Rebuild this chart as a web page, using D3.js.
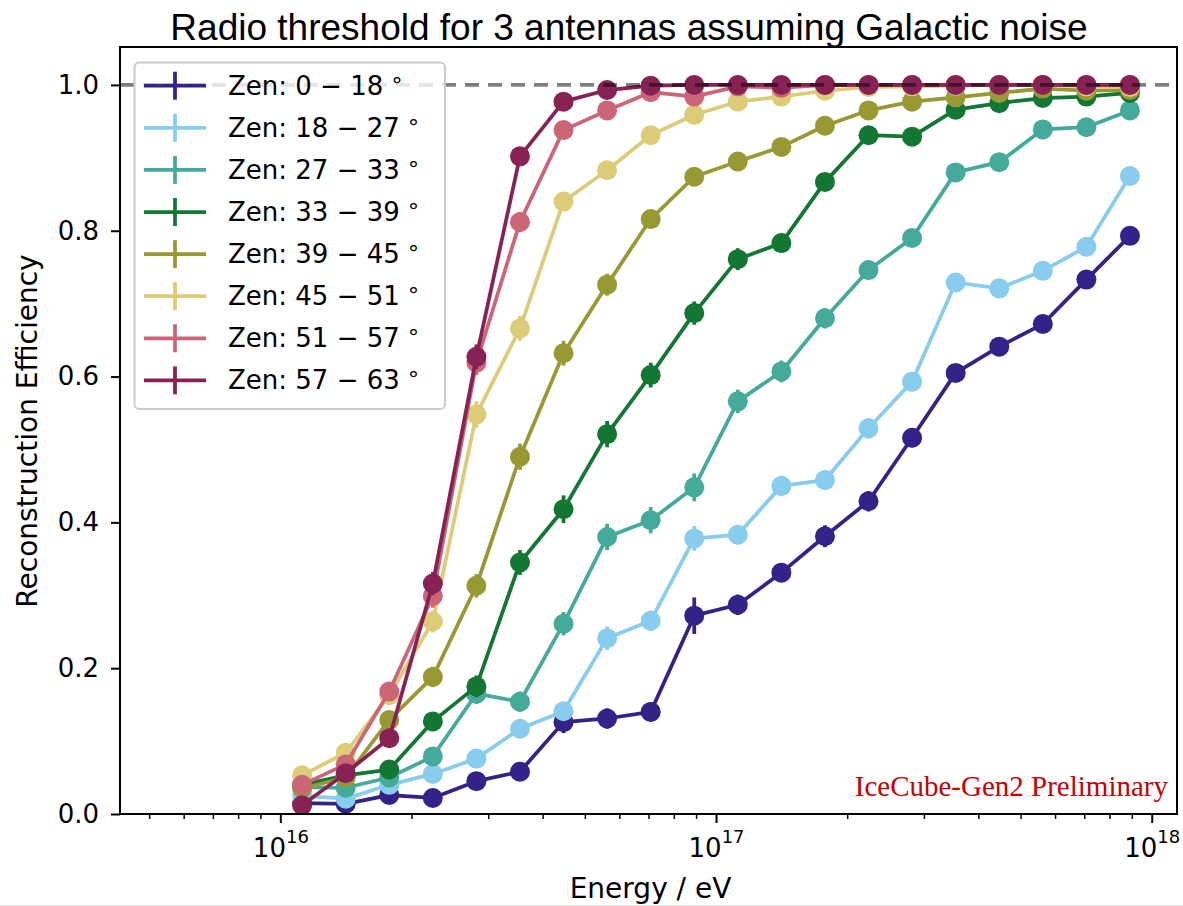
<!DOCTYPE html>
<html>
<head>
<meta charset="utf-8">
<script src="https://cdn.jsdelivr.net/npm/d3@7"></script>
<style>
  body { margin: 0; background: #ffffff; }
  svg { display: block; }
</style>
</head>
<body>
<svg id="chart" width="1183" height="906"></svg>
<script>
// Energy bin centres (log10 of energy in eV)
const logEnergy = [16.05, 16.15, 16.25, 16.35, 16.45, 16.55, 16.65, 16.75, 16.85, 16.95,
                   17.05, 17.15, 17.25, 17.35, 17.45, 17.55, 17.65, 17.75, 17.85, 17.95];

// Zenith bands (degrees)
const zenLow  = [0, 18, 27, 33, 39, 45, 51, 57];
const zenHigh = [18, 27, 33, 39, 45, 51, 57, 63];

const seriesColors = ["#332288", "#88CCEE", "#44AA99", "#117733",
                      "#999933", "#DDCC77", "#CC6677", "#882255"];

// Reconstruction efficiency per zenith band
const effZen0  = [0.015, 0.014, 0.026, 0.022, 0.045, 0.058, 0.126, 0.131, 0.140, 0.272,
                  0.287, 0.331, 0.381, 0.429, 0.516, 0.605, 0.641, 0.672, 0.733, 0.793];
const effZen18 = [0.025, 0.021, 0.040, 0.055, 0.076, 0.117, 0.141, 0.241, 0.265, 0.378,
                  0.383, 0.450, 0.458, 0.529, 0.593, 0.729, 0.721, 0.745, 0.778, 0.875];
const effZen27 = [0.037, 0.036, 0.050, 0.079, 0.165, 0.154, 0.261, 0.380, 0.403, 0.448,
                  0.566, 0.607, 0.680, 0.746, 0.790, 0.880, 0.894, 0.939, 0.942, 0.965];
const effZen33 = [0.040, 0.053, 0.061, 0.127, 0.175, 0.345, 0.418, 0.521, 0.602, 0.687,
                  0.761, 0.783, 0.867, 0.931, 0.929, 0.966, 0.975, 0.982, 0.984, 0.989];
const effZen39 = [0.035, 0.050, 0.129, 0.188, 0.313, 0.490, 0.632, 0.726, 0.816, 0.874,
                  0.895, 0.915, 0.944, 0.965, 0.977, 0.983, 0.989, 0.995, 0.992, 0.993];
const effZen45 = [0.053, 0.084, 0.163, 0.264, 0.548, 0.666, 0.840, 0.883, 0.931, 0.959,
                  0.977, 0.984, 0.992, 0.997, 0.998, 0.999, 1.000, 1.000, 0.998, 0.997];
const effZen51 = [0.040, 0.068, 0.168, 0.299, 0.619, 0.812, 0.938, 0.965, 0.990, 0.984,
                  0.998, 0.996, 1.000, 1.000, 1.000, 1.000, 1.000, 1.000, 1.000, 1.000];
const effZen57 = [0.012, 0.056, 0.104, 0.316, 0.627, 0.902, 0.977, 0.993, 0.999, 1.000,
                  1.000, 1.000, 1.000, 1.000, 1.000, 1.000, 1.000, 1.000, 1.000, 1.000];

// Statistical uncertainty per point
const errZen0  = [0.005, 0.005, 0.007, 0.006, 0.009, 0.010, 0.015, 0.014, 0.013, 0.025,
                  0.014, 0.013, 0.015, 0.014, 0.013, 0.012, 0.012, 0.011, 0.010, 0.009];
const errZen18 = [0.006, 0.006, 0.008, 0.009, 0.010, 0.012, 0.013, 0.016, 0.014, 0.017,
                  0.013, 0.014, 0.013, 0.014, 0.013, 0.012, 0.012, 0.011, 0.011, 0.009];
const errZen27 = [0.007, 0.007, 0.009, 0.011, 0.014, 0.014, 0.016, 0.018, 0.018, 0.019,
                  0.016, 0.015, 0.014, 0.013, 0.012, 0.010, 0.009, 0.007, 0.007, 0.006];
const errZen33 = [0.007, 0.008, 0.009, 0.012, 0.015, 0.017, 0.019, 0.018, 0.017, 0.016,
                  0.015, 0.013, 0.011, 0.008, 0.008, 0.006, 0.005, 0.004, 0.004, 0.003];
const errZen39 = [0.007, 0.008, 0.012, 0.014, 0.016, 0.018, 0.017, 0.015, 0.013, 0.011,
                  0.010, 0.009, 0.007, 0.006, 0.005, 0.004, 0.003, 0.002, 0.003, 0.002];
const errZen45 = [0.008, 0.010, 0.013, 0.015, 0.018, 0.017, 0.013, 0.011, 0.009, 0.007,
                  0.005, 0.004, 0.003, 0.002, 0.001, 0.001, 0.000, 0.000, 0.001, 0.002];
const errZen51 = [0.007, 0.009, 0.013, 0.016, 0.017, 0.014, 0.009, 0.006, 0.003, 0.004,
                  0.002, 0.002, 0.000, 0.000, 0.000, 0.000, 0.000, 0.000, 0.000, 0.000];
const errZen57 = [0.004, 0.008, 0.011, 0.016, 0.017, 0.011, 0.005, 0.003, 0.001, 0.000,
                  0.000, 0.000, 0.000, 0.000, 0.000, 0.000, 0.000, 0.000, 0.000, 0.000];

const majorTicksX = [1e16, 1e17, 1e18];
const majorTickExp = ["16", "17", "18"];
const yTicks = [0.0, 0.2, 0.4, 0.6, 0.8, 1.0];

const effSeries = [effZen0, effZen18, effZen27, effZen33, effZen39, effZen45, effZen51, effZen57];
const errSeries = [errZen0, errZen18, errZen27, errZen33, errZen39, errZen45, errZen51, errZen57];

const series = zenLow.map((lo, k) => ({
  lo, hi: zenHigh[k], color: seriesColors[k],
  points: logEnergy.map((le, i) => ({ e: Math.pow(10, le), v: effSeries[k][i], err: errSeries[k][i] }))
}));

// ---- layout ----
const plot = { left: 120, right: 1177, top: 47, bottom: 814 };
const svg = d3.select("#chart");

const x = d3.scaleLog()
  .domain([Math.pow(10, 15.632), Math.pow(10, 18.058)])
  .range([plot.left, plot.right]);
const y = d3.scaleLinear()
  .domain([0, 1.052])
  .range([plot.bottom, plot.top]);

const sansFont = "'DejaVu Sans', Verdana, sans-serif";

svg.append("defs").append("clipPath").attr("id", "plotClip")
  .append("rect")
  .attr("x", plot.left).attr("y", plot.top)
  .attr("width", plot.right - plot.left).attr("height", plot.bottom - plot.top);

// Title
svg.append("text")
  .attr("x", 629).attr("y", 40)
  .attr("text-anchor", "middle")
  .style("font-family", "'Liberation Sans', Arial, sans-serif")
  .style("font-size", "37px")
  .attr("fill", "#000")
  .text("Radio threshold for 3 antennas assuming Galactic noise");

// ---- data ----
const dataLayer = svg.append("g").attr("clip-path", "url(#plotClip)");
const line = d3.line().x(d => x(d.e)).y(d => y(d.v));

series.forEach(s => {
  const g = dataLayer.append("g");
  g.append("path")
    .datum(s.points)
    .attr("d", line)
    .attr("fill", "none")
    .attr("stroke", s.color)
    .attr("stroke-width", 3.75)
    .attr("stroke-linejoin", "round");
  g.selectAll("line.err")
    .data(s.points.filter(p => p.err > 0))
    .join("line")
    .attr("class", "err")
    .attr("x1", d => x(d.e)).attr("x2", d => x(d.e))
    .attr("y1", d => y(d.v - d.err)).attr("y2", d => y(d.v + d.err))
    .attr("stroke", s.color)
    .attr("stroke-width", 3.75);
  g.selectAll("circle")
    .data(s.points)
    .join("circle")
    .attr("cx", d => x(d.e))
    .attr("cy", d => y(d.v))
    .attr("r", 10)
    .attr("fill", s.color);
});

// Full-efficiency reference line
svg.append("line")
  .attr("x1", plot.left).attr("x2", plot.right)
  .attr("y1", y(1.0)).attr("y2", y(1.0))
  .attr("stroke", "#000")
  .attr("stroke-opacity", 0.5)
  .attr("stroke-width", 3.75)
  .attr("stroke-dasharray", "14,9");

// ---- axes ----
const minorTicksX = [];
[1e15, 1e16, 1e17].forEach(base => {
  for (let m = 2; m <= 9; m++) {
    const v = base * m;
    if (v > x.domain()[0] && v < x.domain()[1]) minorTicksX.push(v);
  }
});

const xMinor = svg.append("g")
  .attr("transform", `translate(0,${plot.bottom})`)
  .call(d3.axisBottom(x).tickValues(minorTicksX).tickSize(5).tickFormat(""));
xMinor.select(".domain").remove();
xMinor.selectAll("line").attr("stroke", "#000").attr("stroke-width", 1.5);

const xMajor = svg.append("g")
  .attr("transform", `translate(0,${plot.bottom})`)
  .call(d3.axisBottom(x).tickValues(majorTicksX).tickSize(9).tickFormat(() => ""));
xMajor.select(".domain").remove();
xMajor.selectAll("line").attr("stroke", "#000").attr("stroke-width", 2);
xMajor.selectAll(".tick text").remove();
xMajor.selectAll(".tick").each(function(d, i) {
  const t = d3.select(this).append("text")
    .attr("y", 43)
    .attr("text-anchor", "middle")
    .attr("fill", "#000")
    .style("font-family", sansFont)
    .style("font-size", "26px");
  t.append("tspan").text("10");
  t.append("tspan").attr("dy", -14).style("font-size", "18px").text(majorTickExp[i]);
});

const yAxis = svg.append("g")
  .attr("transform", `translate(${plot.left},0)`)
  .call(d3.axisLeft(y).tickValues(yTicks).tickSize(9).tickPadding(12).tickFormat(d3.format(".1f")));
yAxis.select(".domain").remove();
yAxis.selectAll("line").attr("stroke", "#000").attr("stroke-width", 2);
yAxis.selectAll("text")
  .attr("fill", "#000")
  .style("font-family", sansFont)
  .style("font-size", "26px");

// Frame
svg.append("rect")
  .attr("x", plot.left).attr("y", plot.top)
  .attr("width", plot.right - plot.left).attr("height", plot.bottom - plot.top)
  .attr("fill", "none")
  .attr("stroke", "#000")
  .attr("stroke-width", 2);

// Axis titles
svg.append("text")
  .attr("x", (plot.left + plot.right) / 2 + 2).attr("y", 898)
  .attr("text-anchor", "middle")
  .attr("fill", "#000")
  .style("font-family", sansFont)
  .style("font-size", "28px")
  .text("Energy / eV");

svg.append("text")
  .attr("transform", "translate(37,431) rotate(-90)")
  .attr("text-anchor", "middle")
  .attr("fill", "#000")
  .style("font-family", sansFont)
  .style("font-size", "28px")
  .text("Reconstruction Efficiency");

// Preliminary watermark
svg.append("text")
  .attr("x", 1168).attr("y", 796)
  .attr("text-anchor", "end")
  .attr("fill", "#c80000")
  .style("font-family", "'Liberation Serif', 'Times New Roman', serif")
  .style("font-size", "29px")
  .text("IceCube-Gen2 Preliminary");

// ---- legend ----
const legend = svg.append("g");
legend.append("rect")
  .attr("x", 134.5).attr("y", 62.5)
  .attr("width", 310.5).attr("height", 346.5)
  .attr("rx", 5)
  .attr("fill", "#fff").attr("fill-opacity", 0.8)
  .attr("stroke", "#cccccc").attr("stroke-width", 2);

const rowY = i => 85.7 + i * 42.1;
const rows = legend.selectAll("g.row")
  .data(series)
  .join("g")
  .attr("class", "row")
  .attr("transform", (d, i) => `translate(0,${rowY(i)})`);
rows.append("line")
  .attr("x1", 144).attr("x2", 206).attr("y1", 0).attr("y2", 0)
  .attr("stroke", d => d.color).attr("stroke-width", 3.75);
rows.append("line")
  .attr("x1", 175).attr("x2", 175).attr("y1", -14).attr("y2", 14)
  .attr("stroke", d => d.color).attr("stroke-width", 3.75);
const labels = rows.append("text")
  .attr("x", 228).attr("y", 9)
  .attr("fill", "#000")
  .style("font-family", sansFont)
  .style("font-size", "26px");
labels.append("tspan").text(d => `Zen: ${d.lo} \u2212 ${d.hi} `);
labels.append("tspan").attr("dy", -2).style("font-size", "22px").text("\u00B0");

// Bottom edge strip
svg.append("line")
  .attr("x1", 0).attr("x2", 1183).attr("y1", 905.5).attr("y2", 905.5)
  .attr("stroke", "#e4e4e4").attr("stroke-width", 1);
</script>
</body>
</html>
